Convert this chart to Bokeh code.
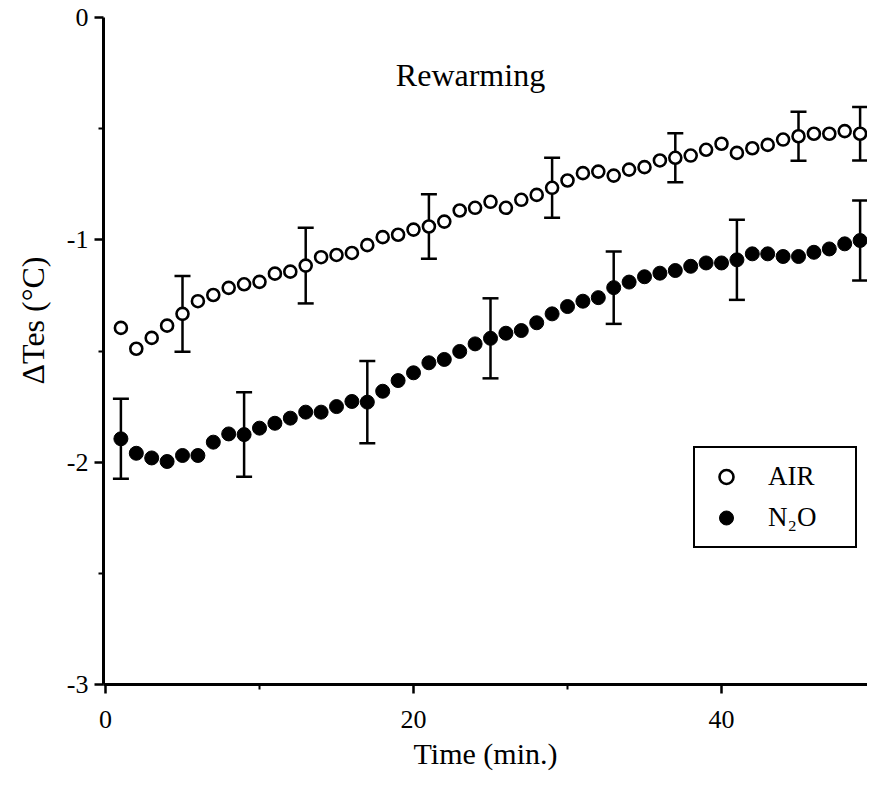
import numpy as np
from bokeh.plotting import figure
from bokeh.models import (Range1d, FixedTicker, ColumnDataSource, Whisker, TeeHead,
                          Legend, LegendItem, Label, Title)
from bokeh.embed import file_html
from bokeh.resources import INLINE

# ---------------- data ----------------
time_min = list(range(1, 50))
air = [-1.396, -1.490, -1.441, -1.386, -1.333, -1.276, -1.248, -1.216, -1.200, -1.189,
       -1.152, -1.143, -1.116, -1.078, -1.068, -1.059, -1.024, -0.988, -0.977, -0.954,
       -0.940, -0.918, -0.868, -0.856, -0.829, -0.856, -0.820, -0.798, -0.766, -0.733,
       -0.700, -0.693, -0.711, -0.684, -0.673, -0.643, -0.631, -0.621, -0.595, -0.568,
       -0.609, -0.588, -0.573, -0.549, -0.534, -0.523, -0.523, -0.511, -0.523]
n2o = [-1.895, -1.960, -1.981, -1.997, -1.970, -1.970, -1.910, -1.873, -1.876, -1.847,
       -1.825, -1.802, -1.775, -1.775, -1.750, -1.727, -1.730, -1.681, -1.633, -1.598,
       -1.553, -1.538, -1.502, -1.468, -1.443, -1.420, -1.408, -1.373, -1.333, -1.300,
       -1.276, -1.260, -1.215, -1.190, -1.166, -1.150, -1.138, -1.119, -1.104, -1.104,
       -1.090, -1.063, -1.063, -1.075, -1.075, -1.056, -1.041, -1.018, -1.003]
air_err_t = [5, 13, 21, 29, 37, 45, 49]
air_err = [0.17, 0.17, 0.145, 0.135, 0.11, 0.11, 0.12]
n2o_err_t = [1, 9, 17, 25, 33, 41, 49]
n2o_err = [0.18, 0.19, 0.185, 0.18, 0.163, 0.18, 0.18]

x_ticks = [0, 20, 40]
x_minor = [10, 30]
y_ticks = [0, -1, -2, -3]
y_minor = [-0.5, -1.5, -2.5]
y_tick_labels = ["0", "-1", "-2", "-3"]

FONT = "Liberation Serif"

# ---------------- figure ----------------
p = figure(frame_width=764, frame_height=667,
           x_range=Range1d(-0.13, 49.48), y_range=Range1d(-3, 0),
           output_backend="svg", toolbar_location=None,
           min_border_left=103, min_border_right=0, min_border_top=17, min_border_bottom=91)
p.outline_line_color = None
p.xgrid.visible = False
p.ygrid.visible = False
p.background_fill_color = "white"
p.border_fill_color = "white"

# error bars
src_air_err = ColumnDataSource(dict(
    t=air_err_t,
    up=[air[t - 1] + e for t, e in zip(air_err_t, air_err)],
    lo=[air[t - 1] - e for t, e in zip(air_err_t, air_err)]))
src_n2o_err = ColumnDataSource(dict(
    t=n2o_err_t,
    up=[n2o[t - 1] + e for t, e in zip(n2o_err_t, n2o_err)],
    lo=[n2o[t - 1] - e for t, e in zip(n2o_err_t, n2o_err)]))
for s in (src_air_err, src_n2o_err):
    w = Whisker(base="t", upper="up", lower="lo", source=s, dimension="height",
                line_color="black", line_width=2.5,
                upper_head=TeeHead(size=16, line_width=2.5, line_color="black"),
                lower_head=TeeHead(size=16, line_width=2.5, line_color="black"))
    p.add_layout(w)

src = ColumnDataSource(dict(t=time_min, air=air, n2o=n2o))
r_air = p.scatter("t", "air", source=src, marker="circle", size=12,
                  fill_color="white", line_color="black", line_width=2.6)
r_n2o = p.scatter("t", "n2o", source=src, marker="circle", size=14,
                  fill_color="black", line_color="black", line_width=1)

# axes
for ax in (p.xaxis[0], p.yaxis[0]):
    ax.axis_line_width = 3
    ax.axis_line_color = "black"
    ax.major_tick_line_width = 2.5
    ax.major_tick_line_color = "black"
    ax.minor_tick_line_width = 2
    ax.minor_tick_line_color = "black"
    ax.major_tick_in = 0
    ax.major_tick_out = 9
    ax.minor_tick_in = 0
    ax.minor_tick_out = 5
    ax.major_label_text_font = FONT
    ax.major_label_text_font_size = "26px"
    ax.major_label_text_color = "black"
    ax.axis_label_text_font = FONT
    ax.axis_label_text_font_size = "30px"
    ax.axis_label_text_font_style = "normal"
    ax.axis_label_text_color = "black"

p.xaxis.ticker = FixedTicker(ticks=x_ticks, minor_ticks=x_minor)
p.yaxis.ticker = FixedTicker(ticks=y_ticks, minor_ticks=y_minor)
p.yaxis.major_label_overrides = {t: l for t, l in zip(y_ticks, y_tick_labels)}
p.xaxis.major_label_standoff = 17
p.yaxis.major_label_standoff = 6
p.xaxis.axis_label = "Time (min.)"
p.xaxis.axis_label_standoff = 6

# y-axis title, in the left panel, placed a little above centre as in the reference
ytitle = Title(text="\u0394Tes (\u00b0C)", align="left", offset=300, standoff=25,
               text_font=FONT, text_font_size="32px", text_font_style="normal",
               text_color="black")
p.add_layout(ytitle, "left")

p.add_layout(Label(x=23.7, y=-0.26, text="Rewarming", text_align="center",
                   text_baseline="middle", text_font=FONT, text_font_size="32px",
                   text_color="black"))

legend = Legend(items=[LegendItem(label="AIR", renderers=[r_air]),
                       LegendItem(label="N\u2082O", renderers=[r_n2o])],
                location=(590, 136), border_line_color="black", border_line_width=2.5,
                border_line_alpha=1.0,
                background_fill_color="white", background_fill_alpha=1.0,
                label_text_font=FONT, label_text_font_size="27px",
                label_text_color="black",
                padding=11, spacing=6, glyph_width=40, glyph_height=35,
                label_standoff=22, label_width=76, label_height=35, margin=0)
p.add_layout(legend)

open("out.html", "w").write(file_html(p, INLINE))
